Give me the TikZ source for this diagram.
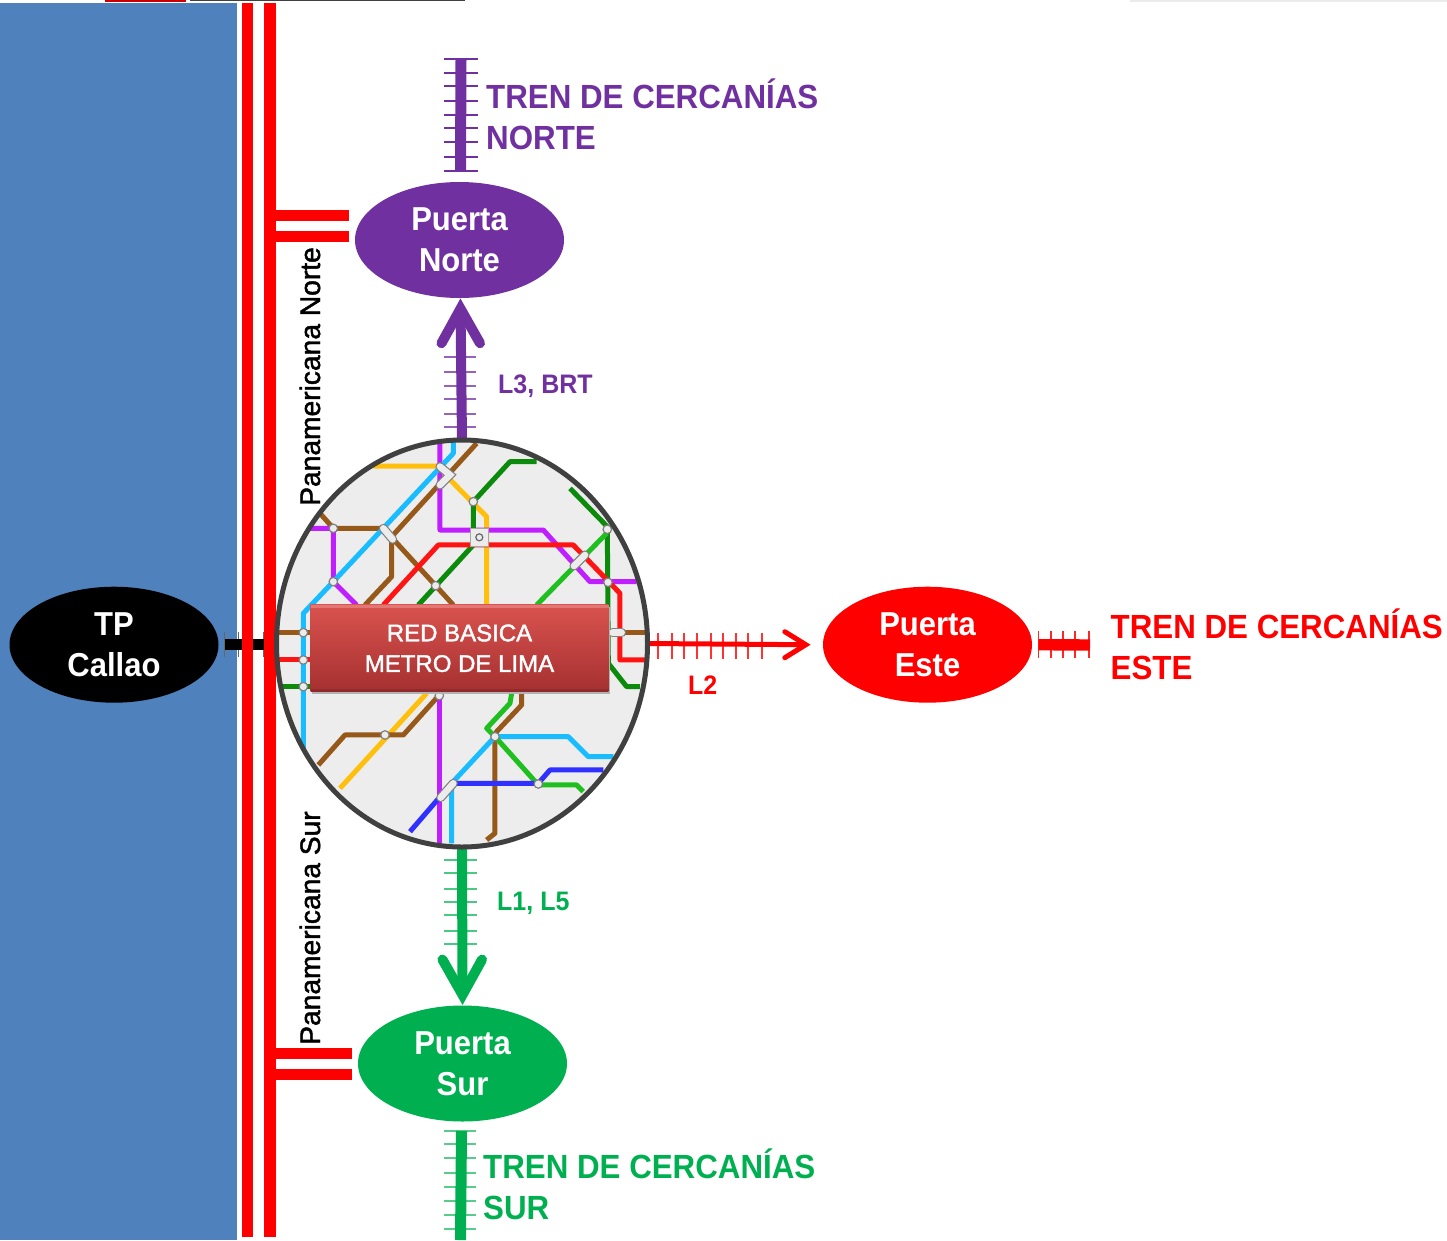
\documentclass[tikz,border=0pt]{standalone}
\usepackage{graphicx}
\usepackage{fontspec}
\setmainfont{Liberation Sans}
\newfontfamily\semibold[FakeBold=1.6]{Liberation Sans}
\newcommand{\tall}[1]{\scalebox{1}[1.07]{#1}}
\usetikzlibrary{shapes.geometric,calc}
\definecolor{cBlue}{HTML}{4F81BD}
\definecolor{cPurple}{HTML}{7030A0}
\definecolor{cGreen}{HTML}{00B050}
\definecolor{cRed}{HTML}{FF0000}
\definecolor{mPurple}{HTML}{BF1FFF}
\definecolor{mCyan}{HTML}{19BDFF}
\definecolor{mBrown}{HTML}{96591A}
\definecolor{mYellow}{HTML}{FFBF0D}
\definecolor{mDark}{HTML}{0B8A0B}
\definecolor{mLight}{HTML}{1FBF1F}
\definecolor{mRed}{HTML}{FF1414}
\definecolor{mBlue}{HTML}{3030FF}
\definecolor{boxTop}{HTML}{D9534F}
\definecolor{boxBot}{HTML}{A53030}
\tikzset{
  puerta/.style={ellipse,minimum width=209pt,minimum height=116pt,inner sep=0pt,text=white,align=center,
    font=\fontsize{31}{41}\selectfont\bfseries},
  tick/.style={line width=1.8pt},
  road/.style={cRed,line width=11.5pt},
  title/.style={anchor=south west,inner sep=0pt,align=left,font=\fontsize{31.3}{41}\selectfont\bfseries},
  small/.style={anchor=base west,inner sep=0pt,font=\fontsize{25}{30}\selectfont\bfseries},
  pan/.style={anchor=base west,inner sep=0pt,rotate=90,font=\fontsize{28.2}{30}\selectfont\semibold},
  barb/.style={line width=10pt,line cap=round,line join=miter,miter limit=10},
  mline/.style={line width=5pt,line join=round},
  stn/.style={circle,fill=white!85!gray,draw=gray,line width=1.2pt,minimum size=8.5pt,inner sep=0pt},
  pill/.style={line width=9pt,line cap=round,gray},
  pillin/.style={line width=6.6pt,line cap=round,white!85!gray},
}
\begin{document}
\begin{tikzpicture}[x=1pt,y=-1pt]
\useasboundingbox (0,0) rectangle (1447,1240);
% top strips
\fill[red!80!black] (105,0) rectangle (186,1.5);
\fill[black!75] (190,0) rectangle (465,1);
\fill[black!8] (1130,0) rectangle (1447,1.5);
% sea
\fill[cBlue] (0,3) rectangle (237,1240);
% TP Callao link (under the roads)
\node[puerta,fill=black] (tpc) at (114,644.7) {\tall{TP}\\\tall{Callao}};
\coordinate (tpE) at (265,644.7);
\foreach \x in {224,238.3,263} \draw[black!60,line width=1pt] (\x,632) -- (\x,657);
\draw[black,line width=11pt] ([xshift=6pt]tpc.east) -- (tpE);
% roads
\coordinate (r1a) at (247.6,3); \coordinate (r1b) at (247.6,1237);
\coordinate (r2a) at (270.2,3); \coordinate (r2b) at (270.2,1237);
\draw[road] (r1a) -- (r1b);
\draw[road] (r2a) -- (r2b);
% gates
\node[puerta,fill=cPurple] (pn) at (459.5,240) {\tall{Puerta}\\\tall{Norte}};
\node[puerta,fill=cGreen] (ps) at (462.5,1063.5) {\tall{Puerta}\\\tall{Sur}};
\node[puerta,fill=cRed] (pe) at (927.5,644.7) {\tall{Puerta}\\\tall{Este}};
\coordinate (bn1) at (349,215.5); \coordinate (bn2) at (349,236.5);
\coordinate (bs1) at (352,1053); \coordinate (bs2) at (352,1074.5);
\draw[road,line width=11pt] (r2a |- bn1) -- (bn1);
\draw[road,line width=11pt] (r2a |- bn2) -- (bn2);
\draw[road,line width=11pt] (r2a |- bs1) -- (bs1);
\draw[road,line width=11pt] (r2a |- bs2) -- (bs2);
% hub position
\coordinate (hubc) at (462,643.5);
\node[ellipse,minimum width=371pt,minimum height=407pt,inner sep=0pt] (hub) at (hubc) {};
% north arrow
\foreach \y in {356.7,371.7,385.7,399,414,427.3} \draw[cPurple!75,tick] (444,\y) -- (476,\y);
\draw[cPurple,line width=10pt] (hub.north) -- ($(pn.south)+(1,10)$);
\draw[cPurple,barb] ($(pn.south)+(-18,45)$) -- ($(pn.south)+(1,10.5)$) -- ($(pn.south)+(20.5,45)$);
% south arrow
\foreach \y in {860,873.3,888.7,902,915.3,930.7,944} \draw[cGreen!70,tick] (443.5,\y) -- (477,\y);
\draw[cGreen,line width=10pt] (hub.south) -- ($(ps.north)+(0,-10)$);
\draw[cGreen,barb] ($(ps.north)+(-20,-45.7)$) -- ($(ps.north)+(0,-10.5)$) -- ($(ps.north)+(19.5,-45.7)$);
% east arrow
\coordinate (eTip) at ($(pe.west)+(-17,0)$);
\foreach \x in {658.3,672.3,684.3,696.7,711,723.3,735.7,748.3,761.7} \draw[cRed!80,tick] (\x,633) -- (\x,659);
\draw[cRed,line width=5pt] (hub.east) -- (eTip);
\draw[cRed,line width=5pt,line cap=round,line join=miter,miter limit=10] ($(eTip)+(-21,-13)$) -- (eTip) -- ($(eTip)+(-21,13)$);
% commuter tracks
\coordinate (tnA) at (461,59); \coordinate (tnB) at (460.5,171);
\foreach \y in {59.3,72.7,86,101,115,128,142,157,171} \draw[cPurple,tick] (444,\y) -- (477.5,\y);
\draw[cPurple,line width=11pt] (tnA) -- (tnB);
\coordinate (tsA) at (461.5,1131); \coordinate (tsB) at (460.5,1240);
\foreach \y in {1130.7,1144.3,1158,1172.7,1186.7,1200.7,1214.7,1229.3} \draw[cGreen!65,tick] (443.5,\y) -- (475.7,\y);
\draw[cGreen,line width=11pt] (tsA) -- (tsB);
\coordinate (teB) at (1090,645);
\foreach \x in {1038.5,1050.7,1063.3,1075,1089.3} \draw[cRed!85,tick] (\x,631) -- (\x,657.5);
\draw[cRed,line width=11.4pt] ($(pe.east)+(6.5,0)$) -- (teB);
% hub map
\fill[black!7] (hub.center) ellipse [x radius=185.5pt,y radius=203.5pt];
\begin{scope}
\clip (hub.center) ellipse [x radius=185.5pt,y radius=203.5pt];
\begin{scope}[shift={(270,430)},x=0.3333pt,y=-0.3333pt]
\draw[mline,mYellow] (310,108) -- (500,108) -- (600,210) -- (650,260) -- (650,525);
\draw[mline,mYellow] (470,790) -- (210,1075);
\draw[mline,mBrown] (150,250) -- (190,295) -- (340,295) -- (550,525);
\draw[mline,mBrown] (620,40) -- (365,320) -- (365,440) -- (285,525);
\draw[mline,mBrown] (20,608) -- (120,608);
\draw[mline,mBrown] (1020,608) -- (1125,608);
\draw[mline,mBrown] (145,1005) -- (225,915) -- (400,915) -- (508,795);
\draw[mline,mBrown] (755,790) -- (755,825) -- (680,905) -- (675,920) -- (675,1210) -- (650,1230);
\draw[mline,mPurple] (510,30) -- (510,300) -- (820,300) -- (960,455) -- (1100,455);
\draw[mline,mPurple] (120,295) -- (190,295) -- (190,455) -- (260,525);
\draw[mline,mPurple] (508,790) -- (508,1240);
\draw[mline,mCyan] (550,30) -- (550,70) -- (190,455) -- (100,550) -- (100,960);
\draw[mline,mCyan] (675,920) -- (895,920) -- (955,980) -- (1030,980);
\draw[mline,mCyan] (675,920) -- (545,1060) -- (545,1240);
\draw[mline,mDark] (800,95) -- (720,95) -- (610,215) -- (610,300);
\draw[mline,mDark] (610,345) -- (445,525);
\draw[mline,mDark] (900,175) -- (1012,290) -- (1015,700) -- (1070,770) -- (1110,770);
\draw[mline,mDark] (20,770) -- (120,770);
\draw[mline,mLight] (1010,310) -- (800,525);
\draw[mline,mLight] (725,790) -- (720,820) -- (650,895) -- (675,920) -- (805,1065) -- (920,1065) -- (940,1085);
\draw[mline,mRed] (340,525) -- (505,345) -- (910,345) -- (1050,490) -- (1050,690) -- (1125,690);
\draw[mline,mRed] (20,690) -- (120,690);
\draw[mline,mBlue] (420,1205) -- (545,1060) -- (805,1060) -- (840,1020) -- (1000,1020);
% stations
\draw[pill] (510,110) -- (540,135) -- (510,165);
\draw[pillin] (510,110) -- (540,135) -- (510,165);
\draw[pill] (340,295) -- (368,328);
\draw[pillin] (340,295) -- (368,328);
\draw[pill] (912,408) -- (945,375);
\draw[pillin] (912,408) -- (945,375);
\draw[pill] (1028,608) -- (1055,608);
\draw[pillin] (1028,608) -- (1055,608);
\draw[pill] (512,1103) -- (550,1060);
\draw[pillin] (512,1103) -- (550,1060);
\foreach \p/\n in {{(610,215)}/a,{(190,295)}/b,{(190,455)}/c,{(497,467)}/d,{(1012,298)}/e,{(1014,457)}/f,{(100,608)}/g,{(100,690)}/h,{(100,770)}/i,{(508,797)}/j,{(345,915)}/k,{(675,920)}/l,{(805,1062)}/m}
  \node[stn] (st\n) at \p {};
\node[rectangle,fill=white!85!gray,draw=gray!70,line width=1pt,minimum size=18pt,inner sep=0pt] (stq) at (628,322) {};
\node[stn,minimum size=7pt,fill=none,draw=gray!80!black] (stq2) at (628,322) {};
\end{scope}
\end{scope}
\draw[black!75,line width=5pt] (hub.center) ellipse [x radius=185.5pt,y radius=203.5pt];
% label box
\fill[black!30] (312,607) rectangle (610,693.5);
\node[rectangle,minimum width=297.6pt,minimum height=86.7pt,inner sep=0pt,top color=boxTop,bottom color=boxBot,text=white,align=center,font=\fontsize{24}{30.6}\selectfont\semibold] (box) at (459.5,648.3) {RED BASICA\\METRO DE LIMA};
\fill[white,opacity=.22] (box.north west) rectangle ($(box.north east)+(0,3)$);
\fill[black,opacity=.12] ($(box.south west)+(0,-3)$) rectangle (box.south east);
% labels
\node[title,text=cPurple] (tn) at (486,150) {\tall{TREN DE CERCANÍAS}\\\tall{NORTE}};
\node[title,text=cGreen] (ts) at (483,1220) {\tall{TREN DE CERCANÍAS}\\\tall{SUR}};
\node[title,text=cRed] (te) at (1110.5,680) {\tall{TREN DE CERCANÍAS}\\\tall{ESTE}};
\node[small,text=cPurple] (l3) at (498,393) {\tall{L3, BRT}};
\node[small,text=cGreen] (l1) at (497,910) {\tall{L1, L5}};
\node[small,text=cRed] (l2) at (688,694.3) {\tall{L2}};
\node[pan] (pann) at (320,506) {Panamericana Norte};
\node[pan] (pans) at (320,1045) {Panamericana Sur};
\end{tikzpicture}
\end{document}
